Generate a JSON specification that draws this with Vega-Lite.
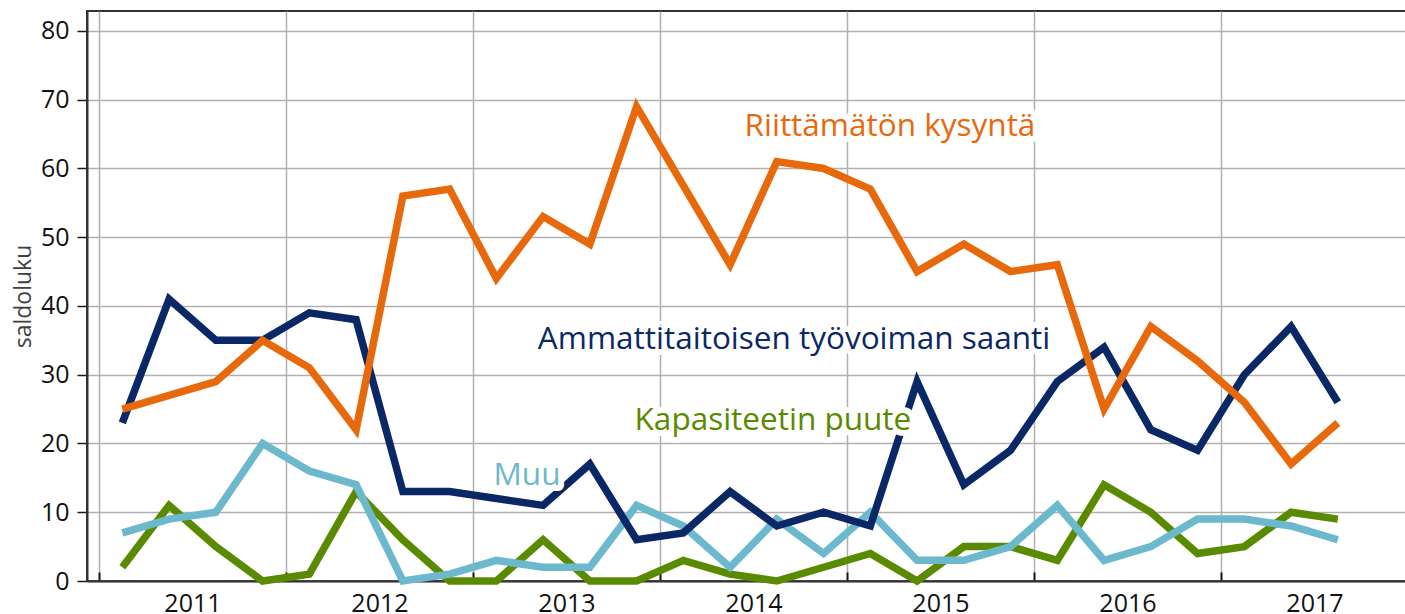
{
  "$schema": "https://vega.github.io/schema/vega-lite/v6.json",
  "width": 1320,
  "height": 570,
  "autosize": {"type": "none"},
  "padding": {"left": 87, "top": 11, "right": 0, "bottom": 33},
  "background": "white",
  "config": {"view": {"stroke": "#333333", "strokeWidth": 2}, "font": "Open Sans"},
  "datasets": {
    "sarjat": [
      {"vuosi": 2011.125, "sarja": "Kapasiteetin puute", "arvo": 2},
      {"vuosi": 2011.375, "sarja": "Kapasiteetin puute", "arvo": 11},
      {"vuosi": 2011.625, "sarja": "Kapasiteetin puute", "arvo": 5},
      {"vuosi": 2011.875, "sarja": "Kapasiteetin puute", "arvo": 0},
      {"vuosi": 2012.125, "sarja": "Kapasiteetin puute", "arvo": 1},
      {"vuosi": 2012.375, "sarja": "Kapasiteetin puute", "arvo": 13},
      {"vuosi": 2012.625, "sarja": "Kapasiteetin puute", "arvo": 6},
      {"vuosi": 2012.875, "sarja": "Kapasiteetin puute", "arvo": 0},
      {"vuosi": 2013.125, "sarja": "Kapasiteetin puute", "arvo": 0},
      {"vuosi": 2013.375, "sarja": "Kapasiteetin puute", "arvo": 6},
      {"vuosi": 2013.625, "sarja": "Kapasiteetin puute", "arvo": 0},
      {"vuosi": 2013.875, "sarja": "Kapasiteetin puute", "arvo": 0},
      {"vuosi": 2014.125, "sarja": "Kapasiteetin puute", "arvo": 3},
      {"vuosi": 2014.375, "sarja": "Kapasiteetin puute", "arvo": 1},
      {"vuosi": 2014.625, "sarja": "Kapasiteetin puute", "arvo": 0},
      {"vuosi": 2014.875, "sarja": "Kapasiteetin puute", "arvo": 2},
      {"vuosi": 2015.125, "sarja": "Kapasiteetin puute", "arvo": 4},
      {"vuosi": 2015.375, "sarja": "Kapasiteetin puute", "arvo": 0},
      {"vuosi": 2015.625, "sarja": "Kapasiteetin puute", "arvo": 5},
      {"vuosi": 2015.875, "sarja": "Kapasiteetin puute", "arvo": 5},
      {"vuosi": 2016.125, "sarja": "Kapasiteetin puute", "arvo": 3},
      {"vuosi": 2016.375, "sarja": "Kapasiteetin puute", "arvo": 14},
      {"vuosi": 2016.625, "sarja": "Kapasiteetin puute", "arvo": 10},
      {"vuosi": 2016.875, "sarja": "Kapasiteetin puute", "arvo": 4},
      {"vuosi": 2017.125, "sarja": "Kapasiteetin puute", "arvo": 5},
      {"vuosi": 2017.375, "sarja": "Kapasiteetin puute", "arvo": 10},
      {"vuosi": 2017.625, "sarja": "Kapasiteetin puute", "arvo": 9},
      {"vuosi": 2011.125, "sarja": "Muu", "arvo": 7},
      {"vuosi": 2011.375, "sarja": "Muu", "arvo": 9},
      {"vuosi": 2011.625, "sarja": "Muu", "arvo": 10},
      {"vuosi": 2011.875, "sarja": "Muu", "arvo": 20},
      {"vuosi": 2012.125, "sarja": "Muu", "arvo": 16},
      {"vuosi": 2012.375, "sarja": "Muu", "arvo": 14},
      {"vuosi": 2012.625, "sarja": "Muu", "arvo": 0},
      {"vuosi": 2012.875, "sarja": "Muu", "arvo": 1},
      {"vuosi": 2013.125, "sarja": "Muu", "arvo": 3},
      {"vuosi": 2013.375, "sarja": "Muu", "arvo": 2},
      {"vuosi": 2013.625, "sarja": "Muu", "arvo": 2},
      {"vuosi": 2013.875, "sarja": "Muu", "arvo": 11},
      {"vuosi": 2014.125, "sarja": "Muu", "arvo": 8},
      {"vuosi": 2014.375, "sarja": "Muu", "arvo": 2},
      {"vuosi": 2014.625, "sarja": "Muu", "arvo": 9},
      {"vuosi": 2014.875, "sarja": "Muu", "arvo": 4},
      {"vuosi": 2015.125, "sarja": "Muu", "arvo": 10},
      {"vuosi": 2015.375, "sarja": "Muu", "arvo": 3},
      {"vuosi": 2015.625, "sarja": "Muu", "arvo": 3},
      {"vuosi": 2015.875, "sarja": "Muu", "arvo": 5},
      {"vuosi": 2016.125, "sarja": "Muu", "arvo": 11},
      {"vuosi": 2016.375, "sarja": "Muu", "arvo": 3},
      {"vuosi": 2016.625, "sarja": "Muu", "arvo": 5},
      {"vuosi": 2016.875, "sarja": "Muu", "arvo": 9},
      {"vuosi": 2017.125, "sarja": "Muu", "arvo": 9},
      {"vuosi": 2017.375, "sarja": "Muu", "arvo": 8},
      {"vuosi": 2017.625, "sarja": "Muu", "arvo": 6},
      {"vuosi": 2011.125, "sarja": "Ammattitaitoisen työvoiman saanti", "arvo": 23},
      {"vuosi": 2011.375, "sarja": "Ammattitaitoisen työvoiman saanti", "arvo": 41},
      {"vuosi": 2011.625, "sarja": "Ammattitaitoisen työvoiman saanti", "arvo": 35},
      {"vuosi": 2011.875, "sarja": "Ammattitaitoisen työvoiman saanti", "arvo": 35},
      {"vuosi": 2012.125, "sarja": "Ammattitaitoisen työvoiman saanti", "arvo": 39},
      {"vuosi": 2012.375, "sarja": "Ammattitaitoisen työvoiman saanti", "arvo": 38},
      {"vuosi": 2012.625, "sarja": "Ammattitaitoisen työvoiman saanti", "arvo": 13},
      {"vuosi": 2012.875, "sarja": "Ammattitaitoisen työvoiman saanti", "arvo": 13},
      {"vuosi": 2013.125, "sarja": "Ammattitaitoisen työvoiman saanti", "arvo": 12},
      {"vuosi": 2013.375, "sarja": "Ammattitaitoisen työvoiman saanti", "arvo": 11},
      {"vuosi": 2013.625, "sarja": "Ammattitaitoisen työvoiman saanti", "arvo": 17},
      {"vuosi": 2013.875, "sarja": "Ammattitaitoisen työvoiman saanti", "arvo": 6},
      {"vuosi": 2014.125, "sarja": "Ammattitaitoisen työvoiman saanti", "arvo": 7},
      {"vuosi": 2014.375, "sarja": "Ammattitaitoisen työvoiman saanti", "arvo": 13},
      {"vuosi": 2014.625, "sarja": "Ammattitaitoisen työvoiman saanti", "arvo": 8},
      {"vuosi": 2014.875, "sarja": "Ammattitaitoisen työvoiman saanti", "arvo": 10},
      {"vuosi": 2015.125, "sarja": "Ammattitaitoisen työvoiman saanti", "arvo": 8},
      {"vuosi": 2015.375, "sarja": "Ammattitaitoisen työvoiman saanti", "arvo": 29},
      {"vuosi": 2015.625, "sarja": "Ammattitaitoisen työvoiman saanti", "arvo": 14},
      {"vuosi": 2015.875, "sarja": "Ammattitaitoisen työvoiman saanti", "arvo": 19},
      {"vuosi": 2016.125, "sarja": "Ammattitaitoisen työvoiman saanti", "arvo": 29},
      {"vuosi": 2016.375, "sarja": "Ammattitaitoisen työvoiman saanti", "arvo": 34},
      {"vuosi": 2016.625, "sarja": "Ammattitaitoisen työvoiman saanti", "arvo": 22},
      {"vuosi": 2016.875, "sarja": "Ammattitaitoisen työvoiman saanti", "arvo": 19},
      {"vuosi": 2017.125, "sarja": "Ammattitaitoisen työvoiman saanti", "arvo": 30},
      {"vuosi": 2017.375, "sarja": "Ammattitaitoisen työvoiman saanti", "arvo": 37},
      {"vuosi": 2017.625, "sarja": "Ammattitaitoisen työvoiman saanti", "arvo": 26},
      {"vuosi": 2011.125, "sarja": "Riittämätön kysyntä", "arvo": 25},
      {"vuosi": 2011.375, "sarja": "Riittämätön kysyntä", "arvo": 27},
      {"vuosi": 2011.625, "sarja": "Riittämätön kysyntä", "arvo": 29},
      {"vuosi": 2011.875, "sarja": "Riittämätön kysyntä", "arvo": 35},
      {"vuosi": 2012.125, "sarja": "Riittämätön kysyntä", "arvo": 31},
      {"vuosi": 2012.375, "sarja": "Riittämätön kysyntä", "arvo": 22},
      {"vuosi": 2012.625, "sarja": "Riittämätön kysyntä", "arvo": 56},
      {"vuosi": 2012.875, "sarja": "Riittämätön kysyntä", "arvo": 57},
      {"vuosi": 2013.125, "sarja": "Riittämätön kysyntä", "arvo": 44},
      {"vuosi": 2013.375, "sarja": "Riittämätön kysyntä", "arvo": 53},
      {"vuosi": 2013.625, "sarja": "Riittämätön kysyntä", "arvo": 49},
      {"vuosi": 2013.875, "sarja": "Riittämätön kysyntä", "arvo": 69},
      {"vuosi": 2014.125, "sarja": "Riittämätön kysyntä", "arvo": 57.5},
      {"vuosi": 2014.375, "sarja": "Riittämätön kysyntä", "arvo": 46},
      {"vuosi": 2014.625, "sarja": "Riittämätön kysyntä", "arvo": 61},
      {"vuosi": 2014.875, "sarja": "Riittämätön kysyntä", "arvo": 60},
      {"vuosi": 2015.125, "sarja": "Riittämätön kysyntä", "arvo": 57},
      {"vuosi": 2015.375, "sarja": "Riittämätön kysyntä", "arvo": 45},
      {"vuosi": 2015.625, "sarja": "Riittämätön kysyntä", "arvo": 49},
      {"vuosi": 2015.875, "sarja": "Riittämätön kysyntä", "arvo": 45},
      {"vuosi": 2016.125, "sarja": "Riittämätön kysyntä", "arvo": 46},
      {"vuosi": 2016.375, "sarja": "Riittämätön kysyntä", "arvo": 25},
      {"vuosi": 2016.625, "sarja": "Riittämätön kysyntä", "arvo": 37},
      {"vuosi": 2016.875, "sarja": "Riittämätön kysyntä", "arvo": 32},
      {"vuosi": 2017.125, "sarja": "Riittämätön kysyntä", "arvo": 26},
      {"vuosi": 2017.375, "sarja": "Riittämätön kysyntä", "arvo": 17},
      {"vuosi": 2017.625, "sarja": "Riittämätön kysyntä", "arvo": 23}
    ],
    "nimet": [
      {"teksti": "Riittämätön kysyntä", "sarja": "Riittämätön kysyntä", "vuosi": 2015.23, "arvo": 64.7},
      {"teksti": "Ammattitaitoisen työvoiman saanti", "sarja": "Ammattitaitoisen työvoiman saanti", "vuosi": 2014.717, "arvo": 33.75},
      {"teksti": "Kapasiteetin puute", "sarja": "Kapasiteetin puute", "vuosi": 2014.604, "arvo": 21.96},
      {"teksti": "Muu", "sarja": "Muu", "vuosi": 2013.289, "arvo": 13.96}
    ]
  },
  "layer": [
    {
      "data": {"name": "sarjat"},
      "mark": {"type": "line", "strokeWidth": 7.5, "clip": false},
      "encoding": {
        "x": {
          "field": "vuosi", "type": "quantitative",
          "scale": {"domain": [2010.936, 2017.995], "nice": false, "zero": false},
          "axis": {
            "orient": "bottom", "values": [2011, 2012, 2013, 2014, 2015, 2016, 2017], "format": "d",
            "grid": true, "gridColor": "#b0b0b0", "gridWidth": 1.5,
            "tickSize": -9, "tickColor": "#1a1a1a", "tickWidth": 2,
            "labelOffset": 93.5, "labelPadding": 19, "labelFontSize": 25, "labelColor": "#111111",
            "labelFlush": false, "labelOverlap": false, "labelFont": "Open Sans",
            "domainColor": "#333333", "domainWidth": 2, "title": null
          }
        },
        "y": {
          "field": "arvo", "type": "quantitative",
          "scale": {"domain": [0, 82.9], "nice": false},
          "axis": {
            "orient": "left",
            "values": [0, 10, 20, 30, 40, 50, 60, 70, 80],
            "grid": true, "gridColor": "#b0b0b0", "gridWidth": 1.5,
            "tickSize": 10, "tickColor": "#1a1a1a", "tickWidth": 1.5,
            "labelPadding": 8, "labelFontSize": 25, "labelColor": "#111111", "labelFont": "Open Sans",
            "labelFlush": false,
            "domainColor": "#333333", "domainWidth": 2,
            "title": "saldoluku", "titleFontSize": 23, "titleFontWeight": "normal",
            "titleColor": "#404040", "titlePadding": 5, "titleFont": "Open Sans"
          }
        },
        "color": {
          "field": "sarja", "type": "nominal",
          "scale": {
            "domain": ["Kapasiteetin puute", "Muu", "Ammattitaitoisen työvoiman saanti", "Riittämätön kysyntä"],
            "range": ["#5a8a00", "#6cb8cc", "#0b2866", "#e8690c"]
          },
          "legend": null
        }
      }
    },
    {
      "data": {"name": "nimet"},
      "mark": {"type": "text", "fontSize": 31.5, "font": "Open Sans", "align": "center", "baseline": "alphabetic", "fill": "white", "stroke": "white", "strokeWidth": 12, "strokeJoin": "round"},
      "encoding": {
        "x": {"field": "vuosi", "type": "quantitative"},
        "y": {"field": "arvo", "type": "quantitative"},
        "text": {"field": "teksti"}
      }
    },
    {
      "data": {"name": "nimet"},
      "mark": {"type": "text", "fontSize": 31.5, "font": "Open Sans", "align": "center", "baseline": "alphabetic"},
      "encoding": {
        "x": {"field": "vuosi", "type": "quantitative"},
        "y": {"field": "arvo", "type": "quantitative"},
        "text": {"field": "teksti"},
        "color": {"field": "sarja", "type": "nominal", "legend": null}
      }
    }
  ]
}
